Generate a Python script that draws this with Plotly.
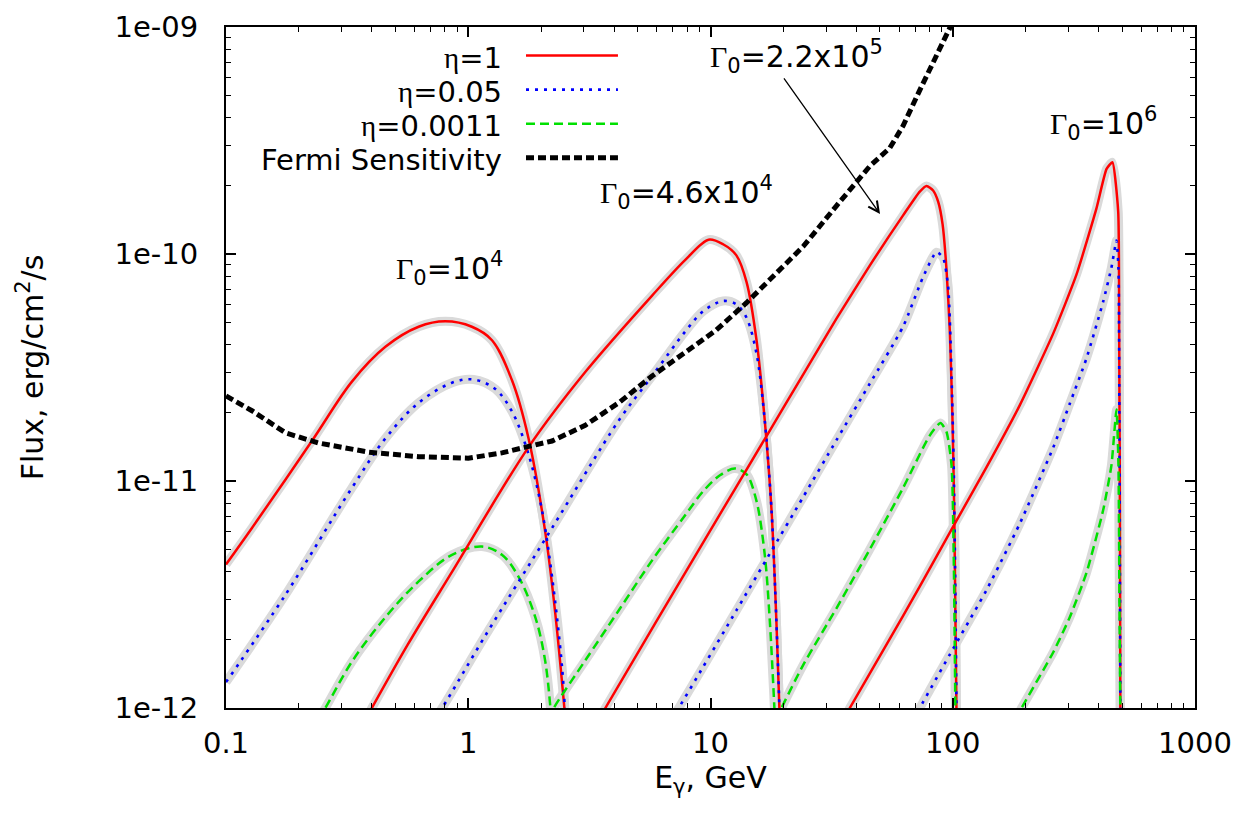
import numpy as np
import plotly.graph_objects as go

# ---------------- data (E in GeV, flux in erg/cm^2/s) ----------------
# Gamma0 = 1e4
g1_eta1_E = [0.1, 0.128, 0.2265, 0.331, 0.455, 0.624, 0.804, 1.035, 1.253, 1.517, 1.774, 2.080, 2.286, 2.518]
g1_eta1_F = [4.29e-12, 6.21e-12, 1.503e-11, 2.74e-11, 3.90e-11, 4.78e-11, 5.05e-11, 4.78e-11, 4.17e-11,
             2.77e-11, 1.54e-11, 5.94e-12, 2.62e-12, 8.9e-13]
g1_eta005_E = [0.1, 0.1758, 0.331, 0.455, 0.624, 0.857, 1.052, 1.294, 1.517, 1.774, 2.014, 2.218, 2.438, 2.518]
g1_eta005_F = [1.30e-12, 3.15e-12, 9.33e-12, 1.54e-11, 2.21e-11, 2.71e-11, 2.80e-11, 2.54e-11, 2.02e-11,
               1.31e-11, 7.45e-12, 3.78e-12, 1.52e-12, 8.9e-13]
g1_eta0011_E = [0.240, 0.257, 0.331, 0.455, 0.624, 0.857, 1.140, 1.377, 1.614, 1.892, 2.080, 2.203]
g1_eta0011_F = [8.9e-13, 1.0e-12, 1.60e-12, 2.51e-12, 3.61e-12, 4.73e-12, 5.14e-12, 4.73e-12, 3.78e-12,
                2.51e-12, 1.60e-12, 8.9e-13]

# Gamma0 = 4.6e4
g2_eta1_E = [0.372, 0.564, 0.857, 1.774, 3.041, 5.741, 7.870, 9.817, 11.27, 12.79, 14.09, 15.49,
             16.75, 17.86, 18.71, 19.32]
g2_eta1_F = [8.7e-13, 1.91e-12, 3.98e-12, 1.41e-11, 3.02e-11, 6.56e-11, 9.42e-11, 1.156e-10,
             1.104e-10, 9.86e-11, 7.52e-11, 4.17e-11, 1.845e-11, 7.45e-12, 2.40e-12, 8.9e-13]
g2_eta005_E = [0.724, 0.780, 1.178, 2.218, 4.178, 5.741, 7.870, 9.333, 11.27, 12.79, 14.09, 15.49, 16.75,
               17.86, 18.71, 19.32]
g2_eta005_F = [8.9e-13, 1.0e-12, 2.09e-12, 6.21e-12, 1.845e-11, 2.90e-11, 4.56e-11, 5.60e-11, 6.21e-11,
               6.00e-11, 5.24e-11, 3.64e-11, 1.845e-11, 7.45e-12, 2.40e-12, 8.9e-13]
g2_eta0011_E = [2.138, 2.254, 3.041, 4.178, 5.741, 7.870, 9.333, 10.94, 12.59, 14.09, 15.49, 16.75, 17.58, 18.45]
g2_eta0011_F = [8.9e-13, 1.0e-12, 1.62e-12, 2.69e-12, 4.47e-12, 7.08e-12, 9.02e-12, 1.06e-11, 1.135e-11,
                1.07e-11, 8.15e-12, 4.73e-12, 2.40e-12, 8.9e-13]

# Gamma0 = 2.2e5
g3_eta1_E = [3.467, 3.681, 9.333, 17.30, 24.15, 33.11, 45.50, 62.37, 73.11, 77.98, 82.99, 87.10, 90.78,
             94.19, 97.27, 99.77, 101.4, 102.6, 103.7]
g3_eta1_F = [8.9e-13, 1.0e-12, 5.37e-12, 1.622e-11, 2.95e-11, 5.19e-11, 8.91e-11, 1.479e-10, 1.884e-10,
             1.995e-10, 1.905e-10, 1.698e-10, 1.355e-10, 8.61e-11, 4.56e-11, 1.845e-11, 7.45e-12, 2.40e-12, 8.9e-13]
g3_eta005_E = [6.918, 7.396, 9.333, 12.79, 17.58, 24.15, 33.11, 45.50, 62.37, 75.51, 85.70, 91.20, 95.72,
               98.86, 100.9, 102.6, 103.7]
g3_eta005_F = [8.9e-13, 1.0e-12, 1.52e-12, 2.69e-12, 4.79e-12, 8.51e-12, 1.514e-11, 2.69e-11, 4.79e-11,
               7.94e-11, 1.019e-10, 9.64e-11, 7.18e-11, 2.90e-11, 1.172e-11, 3.01e-12, 8.9e-13]
g3_eta0011_E = [18.62, 19.63, 24.15, 33.11, 45.50, 62.37, 80.35, 88.92, 94.19, 98.86, 100.9, 102.6]
g3_eta0011_F = [8.9e-13, 1.0e-12, 1.55e-12, 2.75e-12, 5.01e-12, 9.33e-12, 1.585e-11, 1.80e-11, 1.648e-11,
                1.172e-11, 4.73e-12, 8.9e-13]

# Gamma0 = 1e6
g4_eta1_E = [35.48, 37.58, 53.33, 73.11, 100.5, 137.7, 189.2, 260.0, 324.3, 391.7, 431.5, 456.0, 481.9,
             486.4, 489.8, 492.0]
g4_eta1_F = [8.9e-13, 1.0e-12, 1.905e-12, 3.43e-12, 6.31e-12, 1.148e-11, 2.16e-11, 4.47e-11, 8.13e-11,
             1.585e-10, 2.37e-10, 2.535e-10, 1.538e-10, 4.56e-11, 7.45e-12, 8.9e-13]
g4_eta005_E = [69.18, 73.11, 100.5, 137.7, 189.2, 260.0, 304.1, 356.5, 417.8, 451.9, 474.2, 483.1, 487.5, 492.0]
g4_eta005_F = [8.9e-13, 1.0e-12, 1.83e-12, 3.30e-12, 6.50e-12, 1.406e-11, 2.19e-11, 3.47e-11, 6.17e-11,
               8.71e-11, 1.146e-10, 8.61e-11, 1.845e-11, 8.9e-13]
g4_eta0011_E = [182.0, 192.3, 260.0, 304.1, 356.5, 417.8, 451.9, 474.2, 483.1, 487.5, 492.0]
g4_eta0011_F = [8.9e-13, 1.0e-12, 1.76e-12, 2.51e-12, 3.94e-12, 7.45e-12, 1.172e-11, 2.065e-11, 1.172e-11,
                3.01e-12, 8.9e-13]

# Fermi sensitivity
fermi_E = [0.1, 0.128, 0.176, 0.241, 0.388, 0.624, 1.0, 1.377, 1.774, 2.218, 3.041, 4.178, 5.741, 7.870,
           10.5, 14.09, 17.58, 24.15, 33.11, 45.50, 54.95, 62.37, 73.11, 85.70, 97.27, 104.0]
fermi_F = [2.37e-11, 2.04e-11, 1.63e-11, 1.47e-11, 1.34e-11, 1.28e-11, 1.26e-11, 1.33e-11, 1.42e-11,
           1.50e-11, 1.76e-11, 2.21e-11, 2.90e-11, 3.72e-11, 4.6e-11, 6.1e-11, 7.7e-11, 1.08e-10, 1.63e-10,
           2.44e-10, 2.93e-10, 3.67e-10, 5.27e-10, 7.6e-10, 1.0e-9, 1.15e-9]

# labels
SERIF = "Liberation Serif"
eta = f'<span style="font-family:{SERIF}">η</span>'
gam = f'<span style="font-family:{SERIF}">Γ</span>'
legend_labels = [f"{eta}=1", f"{eta}=0.05", f"{eta}=0.0011", "Fermi Sensitivity"]
gamma_labels = [f"{gam}<sub>0</sub>=10<sup>4</sup>", f"{gam}<sub>0</sub>=4.6x10<sup>4</sup>",
                f"{gam}<sub>0</sub>=2.2x10<sup>5</sup>", f"{gam}<sub>0</sub>=10<sup>6</sup>"]
gamma_label_E = [0.838, 7.93, 22.75, 420.7]
gamma_label_F = [8.6e-11, 1.87e-10, 7.4e-10, 3.75e-10]
arrow_head = (50.1, 1.50e-10)
arrow_tail = (19.9, 6.03e-10)

x_tickvals = [0.1, 1, 10, 100, 1000]
x_ticktext = ["0.1", "1", "10", "100", "1000"]
y_tickvals = [1e-12, 1e-11, 1e-10, 1e-9]
y_ticktext = ["1e-12", "1e-11", "1e-10", "1e-09"]

# ---------------- styles ----------------
FONT = "DejaVu Sans"
RED, BLUE, GREEN, BLACK, HALO = "#ff0000", "#0000ff", "#00e000", "#000000", "#dadada"
styles = {
    "eta1": dict(color=RED, width=2.5, dash="solid"),
    "eta005": dict(color=BLUE, width=2.6, dash="3px,6px"),
    "eta0011": dict(color=GREEN, width=2.5, dash="9px,5px"),
    "fermi": dict(color=BLACK, width=5, dash="8px,4px"),
}

# (E, F, style key, spline smoothing)
curves = [
    (g1_eta1_E, g1_eta1_F, "eta1", 1.0), (g1_eta005_E, g1_eta005_F, "eta005", 1.0),
    (g1_eta0011_E, g1_eta0011_F, "eta0011", 1.0),
    (g2_eta1_E, g2_eta1_F, "eta1", 0.9), (g2_eta005_E, g2_eta005_F, "eta005", 0.9),
    (g2_eta0011_E, g2_eta0011_F, "eta0011", 0.9),
    (g3_eta1_E, g3_eta1_F, "eta1", 0.6), (g3_eta005_E, g3_eta005_F, "eta005", 0.6),
    (g3_eta0011_E, g3_eta0011_F, "eta0011", 0.6),
    (g4_eta1_E, g4_eta1_F, "eta1", 0.5), (g4_eta005_E, g4_eta005_F, "eta005", 0.5),
    (g4_eta0011_E, g4_eta0011_F, "eta0011", 0.5),
]

fig = go.Figure()
# grey uncertainty halos
for E, F, key, sm in curves:
    fig.add_trace(go.Scatter(x=E, y=F, mode="lines", showlegend=False, hoverinfo="skip",
                             line=dict(color=HALO, width=9, shape="spline", smoothing=sm)))
# coloured curves
for E, F, key, sm in curves:
    s = styles[key]
    fig.add_trace(go.Scatter(x=E, y=F, mode="lines", showlegend=False,
                             line=dict(color=s["color"], width=s["width"], dash=s["dash"],
                                       shape="spline", smoothing=sm)))
s = styles["fermi"]
fig.add_trace(go.Scatter(x=fermi_E, y=fermi_F, mode="lines", showlegend=False,
                         line=dict(color=s["color"], width=s["width"], dash=s["dash"])))

# ---------------- custom gnuplot-style key ----------------
key_order = ["eta1", "eta005", "eta0011", "fermi"]
key_y = [0.958, 0.908, 0.858, 0.808]
annotations = []
shapes = []
for lab, k, yy in zip(legend_labels, key_order, key_y):
    st = styles[k]
    annotations.append(dict(xref="paper", yref="paper", x=0.287, y=yy - 0.004, text=lab, showarrow=False,
                            xanchor="right", yanchor="middle", font=dict(family=FONT, size=29, color="black")))
    shapes.append(dict(type="line", xref="paper", yref="paper", x0=0.3096, x1=0.4045, y0=yy, y1=yy,
                       line=dict(color=st["color"], width=st["width"], dash=st["dash"])))

for txt, ex, fy in zip(gamma_labels, gamma_label_E, gamma_label_F):
    annotations.append(dict(x=np.log10(ex), y=np.log10(fy), xref="x", yref="y", text=txt, showarrow=False,
                            xanchor="center", yanchor="middle", font=dict(family=FONT, size=30, color="black")))

annotations.append(dict(x=np.log10(arrow_head[0]), y=np.log10(arrow_head[1]), xref="x", yref="y",
                        ax=np.log10(arrow_tail[0]), ay=np.log10(arrow_tail[1]), axref="x", ayref="y",
                        text="", showarrow=True, arrowhead=5, arrowsize=1.6, arrowwidth=1.3,
                        arrowcolor="black", standoff=0, startstandoff=0))

axis_common = dict(showline=True, linewidth=2, linecolor="black", mirror="ticks", ticks="inside",
                   ticklen=10, tickwidth=1.5, tickcolor="black", showgrid=False, zeroline=False,
                   tickfont=dict(family=FONT, size=29, color="black"), automargin=False)

fig.update_layout(
    width=1247, height=816,
    margin=dict(l=218, r=60, t=19, b=116),
    paper_bgcolor="white", plot_bgcolor="white",
    font=dict(family=FONT, color="black"),
    showlegend=False,
    annotations=annotations, shapes=shapes,
    xaxis=dict(type="log", range=[-1, 3], tickmode="array", tickvals=x_tickvals, ticktext=x_ticktext,
               ticklabelstandoff=8,
               minor=dict(ticks="inside", ticklen=5, tickwidth=1, tickcolor="black", dtick="D1", showgrid=False),
               title=dict(text="E<sub>γ</sub>, GeV", font=dict(family=FONT, size=30), standoff=8),
               **axis_common),
    yaxis=dict(type="log", range=[-12, -9], tickmode="array", tickvals=y_tickvals, ticktext=y_ticktext,
               ticklabelstandoff=20,
               minor=dict(ticks="inside", ticklen=5, tickwidth=1, tickcolor="black", dtick="D1", showgrid=False),
               title=dict(text="Flux, erg/cm<sup>2</sup>/s", font=dict(family=FONT, size=30), standoff=62),
               **axis_common),
)

fig.write_html("out.html")
